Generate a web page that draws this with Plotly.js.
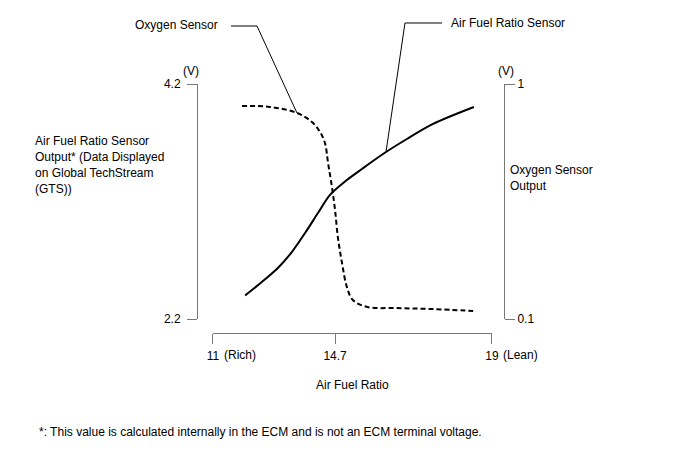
<!DOCTYPE html>
<html>
<head>
<meta charset="utf-8">
<script src="https://cdn.plot.ly/plotly-3.0.1.min.js"></script>
<style>html,body{margin:0;padding:0;background:#fff;}#chart{width:688px;height:463px;}</style>
</head>
<body>
<div id="chart"></div>
<script>
// ---- data ----
// Air fuel ratio sensor output (left axis, V)
var afrX = [11.92, 12.40, 12.86, 13.26, 13.64, 14.01, 14.35, 14.84, 15.27, 15.96, 16.56, 17.31, 18.48];
var afrV = [2.400, 2.515, 2.634, 2.770, 2.932, 3.102, 3.255, 3.383, 3.477, 3.621, 3.732, 3.860, 4.004];
// Oxygen sensor output (right axis, V)
var o2X = [11.83, 12.63, 13.41, 13.84, 14.07, 14.21, 14.30, 14.41, 14.50, 14.58, 14.70, 14.84, 15.01, 15.42, 16.28, 17.31, 18.46];
var o2V = [0.916, 0.912, 0.889, 0.854, 0.816, 0.774, 0.697, 0.606, 0.517, 0.414, 0.314, 0.222, 0.173, 0.146, 0.142, 0.138, 0.131];
// axis ticks (schematic axis: the 14.7 mark sits at this position in the drawing)
var xTickVals = [11, 14.5, 19];
var xTickText = ['11', '14.7', '19'];
var yTickVals = [2.2, 4.2];
var yTickText = ['2.2', '4.2'];
var y2TickVals = [0.1, 1];
var y2TickText = ['0.1', '1'];
var leftTitleLines = ['Air Fuel Ratio Sensor', 'Output* (Data Displayed', 'on Global TechStream', '(GTS))'];

var FONT = 'Liberation Sans, Arial, sans-serif';
var AX = '#777';

var traces = [
  {x: afrX, y: afrV, type: 'scatter', mode: 'lines', yaxis: 'y',
   line: {color: '#000', width: 2, shape: 'spline', smoothing: 0.9}, name: 'Air Fuel Ratio Sensor', hoverinfo: 'skip'},
  {x: o2X, y: o2V, type: 'scatter', mode: 'lines', yaxis: 'y2',
   line: {color: '#000', width: 2, dash: '5px,3px', shape: 'spline', smoothing: 1}, name: 'Oxygen Sensor', hoverinfo: 'skip'}
];

function ann(text, x, y, xa, ya, extra) {
  var a = {text: text, xref: 'paper', yref: 'paper', x: x, y: y, xanchor: xa, yanchor: ya,
           showarrow: false, align: 'left', font: {family: FONT, size: 12, color: '#000'}};
  if (extra) for (var k in extra) a[k] = extra[k];
  return a;
}

var annotations = [
  ann('Oxygen Sensor', -0.2085, 1.2369, 'left', 'middle'),
  ann('Air Fuel Ratio Sensor', 0.8208, 1.245, 'left', 'middle'),
  ann('Oxygen Sensor<br>Output', 1.013, 0.6225, 'left', 'middle'),
  ann('(V)', -0.0195, 1.052, 'center', 'middle'),
  ann('(V)', 1.0065, 1.052, 'center', 'middle'),
  ann('Air Fuel Ratio', 0.5049, -0.2088, 'center', 'middle'),
  ann('*: This value is calculated internally in the ECM and is not an ECM terminal voltage.', -0.5212, -0.3976, 'left', 'middle'),
  ann('(Rich)', 11, -0.0883, 'left', 'middle', {xref: 'x', xshift: 9}),
  ann('(Lean)', 19, -0.0883, 'left', 'middle', {xref: 'x', xshift: 9})
];
// left axis title, one line per annotation (16 px line pitch)
leftTitleLines.forEach(function (t, i) {
  annotations.push(ann(t, -0.5342, (333 - (141 + 16 * i)) / 249, 'left', 'middle'));
});

var layout = {
  width: 688, height: 463,
  margin: {l: 197, r: 184, t: 84, b: 130, pad: 0},
  paper_bgcolor: '#fff', plot_bgcolor: '#fff',
  showlegend: false,
  font: {family: FONT, size: 12, color: '#000'},
  xaxis: {
    domain: [0.0521, 0.9609], anchor: 'free', position: 0,
    range: [11, 19], tickvals: xTickVals, ticktext: xTickText,
    showline: true, linecolor: AX, linewidth: 1,
    ticks: 'outside', ticklen: 10, tickcolor: AX, tickwidth: 1, ticklabelstandoff: 2,
    showgrid: false, zeroline: false, tickfont: {family: FONT, size: 12, color: '#000'}
  },
  yaxis: {
    domain: [0.0562, 1], anchor: 'free', position: 0, side: 'left',
    range: [2.2, 4.2], tickvals: yTickVals, ticktext: yTickText,
    showline: true, linecolor: AX, linewidth: 1,
    ticks: 'outside', ticklen: 10, tickcolor: AX, tickwidth: 1, ticklabelstandoff: 4,
    showgrid: false, zeroline: false, tickfont: {family: FONT, size: 12, color: '#000'}
  },
  yaxis2: {
    domain: [0.0562, 1], anchor: 'free', position: 1, side: 'right', overlaying: 'y',
    range: [0.1, 1], tickvals: y2TickVals, ticktext: y2TickText,
    showline: true, linecolor: AX, linewidth: 1,
    ticks: 'outside', ticklen: 10, tickcolor: AX, tickwidth: 1,
    showgrid: false, zeroline: false, tickfont: {family: FONT, size: 12, color: '#000'}
  },
  shapes: [
    {type: 'path', xref: 'paper', yref: 'paper', path: 'M 0.1107,1.2329 L 0.1954,1.2329 L 0.3257,0.8835',
     line: {color: '#000', width: 1}},
    {type: 'path', xref: 'paper', yref: 'paper', path: 'M 0.798,1.245 L 0.6775,1.245 L 0.6156,0.7269',
     line: {color: '#000', width: 1}}
  ],
  annotations: annotations
};

Plotly.newPlot('chart', traces, layout, {displayModeBar: false, staticPlot: true});
</script>
</body>
</html>
